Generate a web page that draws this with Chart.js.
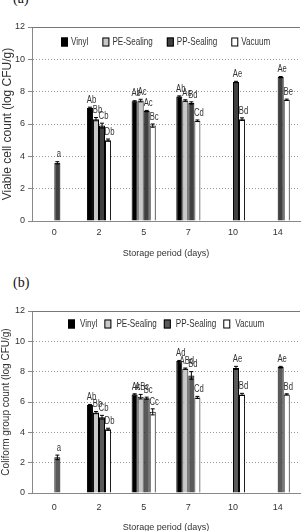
<!DOCTYPE html>
<html>
<head>
<meta charset="utf-8">
<script src="https://cdn.jsdelivr.net/npm/chart.js@4"></script>
<style>
  html, body { margin: 0; padding: 0; background: #fff; overflow: hidden; }
  body { width: 306px; height: 531px; position: relative; }
  canvas { position: absolute; left: 0; }
  #chartA { top: 0; }
  #chartB { top: 290px; }
  .tag { position: absolute; left: 13px; font-family: "Liberation Serif", serif; font-size: 14px; color: #111; }
</style>
</head>
<body>
<div class="tag" style="top:-9px">(a)</div>
<div class="tag" style="top:275px">(b)</div>
<canvas id="chartA" width="306" height="265"></canvas>
<canvas id="chartB" width="306" height="250"></canvas>
<script>
const days = ["0", "2", "5", "7", "10", "14"];
const seriesNames = ["Vinyl", "PE-Sealing", "PP-Sealing", "Vacuum"];
const yTicks = [0, 2, 4, 6, 8, 10, 12];

// (a) viable cell count
const vinylA = [null, 7.0, 7.4, 7.7, null, null];
const peA = [null, 6.3, 7.45, 7.45, null, null];
const ppA = [3.6, 5.9, 6.8, 7.3, 8.6, 8.9];
const vacuumA = [null, 5.0, 5.9, 6.2, 6.3, 7.5];
const vinylErrA = [null, 0.04, 0.04, 0.04, null, null];
const peErrA = [null, 0.1, 0.08, 0.05, null, null];
const ppErrA = [0.07, 0.15, 0.04, 0.07, 0.04, 0.04];
const vacuumErrA = [null, 0.07, 0.1, 0.05, 0.08, 0.04];
const vinylTagA = [null, "Ab", "Ab", "Ab", null, null];
const peTagA = [null, "Bb", "Ac", "Ac", null, null];
const ppTagA = ["a", "Cb", "Ac", "Bd", "Ae", "Ae"];
const vacuumTagA = [null, "Db", "Bc", "Cd", "Bd", "Be"];

// (b) coliform group count
const vinylB = [null, 5.8, 6.5, 8.7, null, null];
const peB = [null, 5.3, 6.35, 8.2, null, null];
const ppB = [2.35, 5.0, 6.25, 7.75, 8.25, 8.3];
const vacuumB = [null, 4.2, 5.35, 6.3, 6.5, 6.5];
const vinylErrB = [null, 0.04, 0.04, 0.04, null, null];
const peErrB = [null, 0.07, 0.15, 0.04, null, null];
const ppErrB = [0.15, 0.12, 0.07, 0.25, 0.1, 0.05];
const vacuumErrB = [null, 0.07, 0.2, 0.07, 0.07, 0.04];
const vinylTagB = [null, "Ab", "Ac", "Ad", null, null];
const peTagB = [null, "Bb", "ABc", "ABd", null, null];
const ppTagB = ["a", "Cb", "Bc", "Bd", "Ae", "Ae"];
const vacuumTagB = [null, "Db", "Cc", "Cd", "Bd", "Bd"];

const FONT = "'Liberation Sans', Arial, sans-serif";
const TEXT = "#333";
const NARROW = 0.77; // the original uses a condensed face

// draw text squeezed horizontally
function narrowText(ctx, str, x, y, align) {
    const w = ctx.measureText(str).width * NARROW;
    const left = align === "center" ? x - w / 2 : x;
    ctx.save();
    ctx.translate(left, y);
    ctx.scale(NARROW, 1);
    ctx.textAlign = "left";
    ctx.fillText(str, 0, 0);
    ctx.restore();
    return w;
}

// error bars + letter tags above each bar
const barExtras = {
    id: "barExtras",
    afterDatasetsDraw(chart) {
        const ctx = chart.ctx;
        const y = chart.scales.y;
        ctx.save();
        chart.data.datasets.forEach((ds, d) => {
            const meta = chart.getDatasetMeta(d);
            meta.data.forEach((bar, i) => {
                const v = ds.data[i];
                if (v == null) return;
                const e = ds.errors[i] || 0;
                const top = y.getPixelForValue(v + e);
                const bot = y.getPixelForValue(v - e);
                ctx.strokeStyle = "#000";
                ctx.lineWidth = 1;
                ctx.beginPath();
                ctx.moveTo(bar.x, top); ctx.lineTo(bar.x, bot);
                ctx.moveTo(bar.x - 2, top); ctx.lineTo(bar.x + 2, top);
                ctx.moveTo(bar.x - 2, bot); ctx.lineTo(bar.x + 2, bot);
                ctx.stroke();
                const tag = ds.tags[i];
                if (tag) {
                    ctx.fillStyle = TEXT;
                    ctx.font = "10px " + FONT;
                    ctx.textBaseline = "bottom";
                    narrowText(ctx, tag, bar.x + 1.5, top - 2, "center");
                }
            });
        });
        ctx.restore();
    }
};

// legend inside the plot + solid top frame line
const innerLegend = {
    id: "innerLegend",
    afterDraw(chart, args, opts) {
        const ctx = chart.ctx;
        const area = chart.chartArea;
        ctx.save();
        ctx.strokeStyle = "#777";
        ctx.lineWidth = 1;
        ctx.beginPath();
        ctx.moveTo(area.left, area.top + 0.5);
        ctx.lineTo(area.right, area.top + 0.5);
        ctx.stroke();

        ctx.font = "10.5px " + FONT;
        ctx.textBaseline = "middle";
        const box = 7, gapBox = opts.boxGap, gap = opts.gap;
        const items = chart.data.datasets.map(ds => ({
            label: ds.label, fill: ds.backgroundColor,
            w: box + gapBox + ctx.measureText(ds.label).width * NARROW
        }));
        const total = items.reduce((s, it) => s + it.w, 0) + gap * (items.length - 1);
        let x = Math.round((area.left + area.right) / 2 - total / 2);
        const cy = area.top + opts.offset;
        items.forEach(it => {
            ctx.fillStyle = it.fill;
            ctx.fillRect(x, cy - 4.5, box, 9);
            ctx.strokeStyle = "#000";
            ctx.strokeRect(x + 0.5, cy - 4, box - 1, 8);
            ctx.fillStyle = TEXT;
            narrowText(ctx, it.label, x + box + gapBox, cy + 0.5, "left");
            x += it.w + gap;
        });
        ctx.restore();
    }
};

function makeChart(id, values, errors, tags, ppColor, yTitle, geom) {
    const fills = ["#000000", "#c8c8c8", ppColor, "#ffffff"];
    return new Chart(document.getElementById(id), {
        type: "bar",
        data: {
            labels: days,
            datasets: seriesNames.map((name, k) => ({
                label: name,
                data: values[k],
                errors: errors[k],
                tags: tags[k],
                backgroundColor: fills[k],
                borderColor: "#000",
                borderWidth: 1,
                categoryPercentage: 0.54,
                barPercentage: 1
            }))
        },
        options: {
            responsive: false,
            animation: false,
            layout: { padding: { top: geom.top, right: 6, left: 0, bottom: 0 } },
            plugins: {
                legend: { display: false },
                tooltip: { enabled: false },
                innerLegend: { gap: geom.gap, boxGap: geom.boxGap, offset: geom.legendOffset }
            },
            scales: {
                x: {
                    grid: { display: false, drawTicks: false },
                    border: { display: true, color: "#888" },
                    ticks: { color: TEXT, font: { family: FONT, size: 9 }, padding: geom.tickPad },
                    title: { display: true, text: "Storage period (days)", color: TEXT,
                        font: { family: FONT, size: 9 }, padding: { top: 0, bottom: geom.titlePad } },
                    afterFit(scale) { scale.height = geom.xHeight; }
                },
                y: {
                    min: 0, max: 12,
                    afterBuildTicks(scale) { scale.ticks = yTicks.map(v => ({ value: v })); },
                    grid: { color: "#999", tickColor: "#888", tickLength: 4, tickBorderDash: [] },
                    border: { display: true, color: "#888", dash: [1, 2] },
                    ticks: { color: TEXT, font: { family: FONT, size: 9 }, padding: 3 },
                    title: { display: true, text: yTitle, color: TEXT,
                        font: { family: FONT, size: geom.yTitleSize }, padding: { top: 0, bottom: 0 } },
                    afterFit(scale) { scale.width = 32; }
                }
            }
        },
        plugins: [barExtras, innerLegend]
    });
}

makeChart("chartA",
    [vinylA, peA, ppA, vacuumA],
    [vinylErrA, peErrA, ppErrA, vacuumErrA],
    [vinylTagA, peTagA, ppTagA, vacuumTagA],
    "#404040", "Viable cell count (log CFU/g)",
    { top: 27, xHeight: 44, tickPad: 6, titlePad: 6, gap: 14, boxGap: 3, legendOffset: 15, yTitleSize: 12 });

makeChart("chartB",
    [vinylB, peB, ppB, vacuumB],
    [vinylErrB, peErrB, ppErrB, vacuumErrB],
    [vinylTagB, peTagB, ppTagB, vacuumTagB],
    "#5a5a5a", "Coliform group count (log CFU/g)",
    { top: 21, xHeight: 47, tickPad: 9, titlePad: 7, gap: 7, boxGap: 5, legendOffset: 13, yTitleSize: 10 });
</script>
</body>
</html>
